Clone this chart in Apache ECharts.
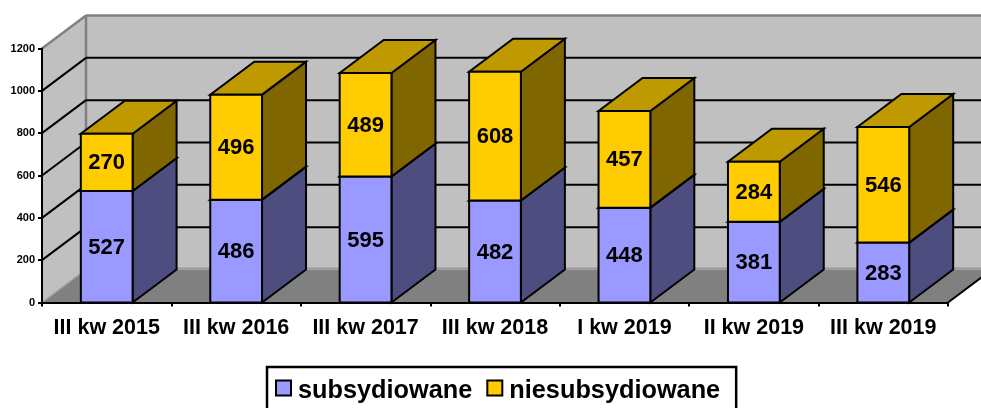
<!DOCTYPE html>
<html><head><meta charset="utf-8">
<script src="https://cdn.jsdelivr.net/npm/echarts@6/dist/echarts.min.js"></script>
<style>html,body{margin:0;padding:0;background:#fff;overflow:hidden}#c{width:981px;height:408px}</style>
</head><body><div id="c"></div>
<script>
var categories = ['III kw 2015','III kw 2016','III kw 2017','III kw 2018','I kw 2019','II kw 2019','III kw 2019'];
var subsydiowane = [527,486,595,482,448,381,283];
var niesubsydiowane = [270,496,489,608,457,284,546];
var yTicks = [0,200,400,600,800,1000,1200];

var FONT = '"Liberation Sans", Arial, sans-serif';
var DX = 44, DY = -33;
var chart = echarts.init(document.getElementById('c'), null, {renderer:'canvas'});

function poly(pts, fill, stroke, w){
  return {type:'polygon', shape:{points:pts}, style:{fill:fill, stroke:stroke||null, lineWidth:w||0, lineJoin:'miter'}};
}
function line(a, b, stroke, w){
  return {type:'line', shape:{x1:a[0],y1:a[1],x2:b[0],y2:b[1]}, style:{stroke:stroke, lineWidth:w, lineCap:'butt'}};
}

function renderWalls(params, api){
  var cs = params.coordSys;
  var l = cs.x, r = cs.x + cs.width, b = api.coord([0,0])[1], t = api.coord([0,1200])[1];
  return {type:'group', children:[
    poly([[l,b],[l+DX,b+DY],[l+DX,t+DY],[l,t]], '#C0C0C0'),
    poly([[l+DX,b+DY],[r+DX,b+DY],[r+DX,t+DY],[l+DX,t+DY]], '#C0C0C0'),
    poly([[l,b],[l+DX,b+DY],[r+DX,b+DY],[r,b]], '#808080'),
    line([l,b],[l+DX,b+DY],'#A0A0A0',1.5),
    line([l+DX,b+DY-1],[r+DX,b+DY-1],'#999999',2),
    line([l+DX,b+DY],[l+DX,t+DY],'#808080',2.5),
    line([l,t],[l+DX,t+DY],'#808080',2.5),
    line([l+DX,t+DY],[r+DX,t+DY],'#808080',2.5),
    line([r,b],[r+DX,b+DY],'#000',2)
  ]};
}
function renderGrid(params, api){
  var v = api.value(0);
  if (v === 0 || v === 1200) return {type:'group', children:[]};
  var cs = params.coordSys, y = api.coord([0,v])[1];
  return {type:'group', children:[
    line([cs.x,y],[cs.x+DX,y+DY],'#000',2),
    line([cs.x+DX,y+DY],[cs.x+cs.width+DX,y+DY],'#000',2)
  ]};
}
function renderBar(front, side, top){
  return function(params, api){
    var i = api.value(0), s = api.value(1), e = api.value(2);
    var size = api.size([1,0])[0] / 2.5;
    var p0 = api.coord([i,s]), p1 = api.coord([i,e]);
    var x0 = p0[0]-size/2, x1 = p0[0]+size/2, yb = p0[1], yt = p1[1];
    return {type:'group', children:[
      poly([[x1,yb],[x1+DX,yb+DY],[x1+DX,yt+DY],[x1,yt]], side, '#000', 2),
      poly([[x0,yt],[x1,yt],[x1+DX,yt+DY],[x0+DX,yt+DY]], top, '#000', 2),
      poly([[x0,yb],[x1,yb],[x1,yt],[x0,yt]], front, '#000', 2),
      {type:'text', z2:5, style:{text:String(e-s), x:(x0+x1)/2, y:(yb+yt)/2+1, align:'center', verticalAlign:'middle',
        font:'bold 22px '+FONT, fill:'#000'}}
    ]};
  };
}
var dataA = categories.map(function(c,i){return [i,0,subsydiowane[i]];});
var dataB = categories.map(function(c,i){return [i,subsydiowane[i],subsydiowane[i]+niesubsydiowane[i]];});

chart.setOption({
  animation:false,
  backgroundColor:'#fff',
  grid:{left:42, right:33, top:48.5, bottom:105.5, containLabel:false},
  xAxis:{type:'category', data:categories, z:5,
    axisLine:{show:true, onZero:false, lineStyle:{color:'#000', width:2}},
    axisTick:{show:true, alignWithLabel:false, length:4, lineStyle:{color:'#000', width:2}},
    axisLabel:{color:'#000', fontFamily:FONT, fontWeight:'bold', fontSize:21.5, margin:14.5, interval:0},
    splitLine:{show:false}},
  yAxis:{type:'value', min:0, max:1200, interval:200, z:5,
    axisLine:{show:true, lineStyle:{color:'#000', width:2}},
    axisTick:{show:true, length:4, lineStyle:{color:'#000', width:2}},
    axisLabel:{color:'#000', fontFamily:FONT, fontWeight:'bold', fontSize:11, margin:7, formatter:function(v){return String(v);}},
    splitLine:{show:false}},
  legend:{data:['subsydiowane','niesubsydiowane'], left:267, top:367, orient:'horizontal',
    backgroundColor:'#fff', borderColor:'#000', borderWidth:2.5, padding:[12,16,20,8], itemGap:14,
    itemWidth:15, itemHeight:22, icon:'path://M0 0H15V15H0Z M0 22L0 22', itemStyle:{borderColor:'#000', borderWidth:2},
    textStyle:{color:'#000', fontFamily:FONT, fontWeight:'bold', fontSize:25.3, padding:[0,0,0,2]}},
  series:[
    {type:'custom', name:'walls', z:1, silent:true, data:[[0]], encode:{x:0}, renderItem:renderWalls},
    {type:'custom', name:'grid', z:2, silent:true, data:yTicks.map(function(v){return [v];}), encode:{y:0}, renderItem:renderGrid},
    {type:'custom', name:'subsydiowane', z:10, silent:true, itemStyle:{color:'#9999FF'}, data:dataA, encode:{x:0,y:[1,2]},
      renderItem:renderBar('#9999FF','#4D4D80','#7373BF')},
    {type:'custom', name:'niesubsydiowane', z:11, silent:true, itemStyle:{color:'#FFCC00'}, data:dataB, encode:{x:0,y:[1,2]},
      renderItem:renderBar('#FFCC00','#806600','#BF9900')}
  ]
});
</script></body></html>
